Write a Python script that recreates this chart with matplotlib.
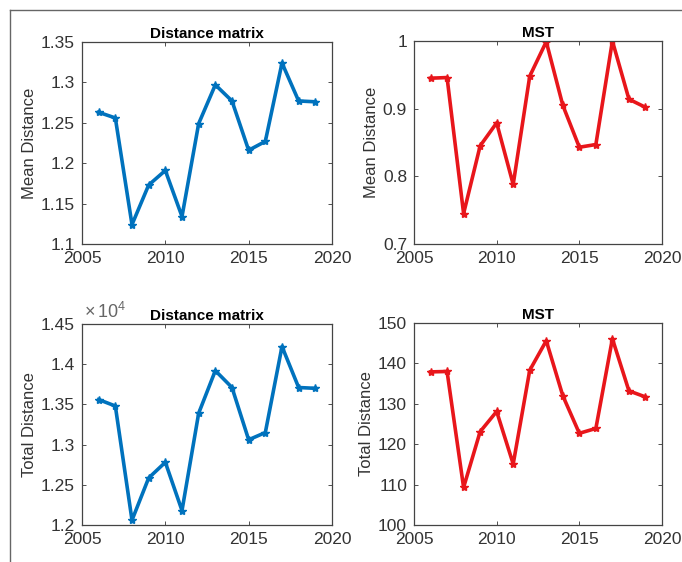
import matplotlib
matplotlib.use("Agg")
import matplotlib.pyplot as plt
from matplotlib.ticker import FuncFormatter
from matplotlib.lines import Line2D

plt.rcParams['font.family'] = ['Liberation Sans', 'DejaVu Sans']
plt.rcParams['mathtext.fontset'] = 'custom'
plt.rcParams['mathtext.rm'] = 'Liberation Sans'

years = [2006, 2007, 2008, 2009, 2010, 2011, 2012, 2013, 2014, 2015, 2016, 2017, 2018, 2019]
dm_mean = [1.263, 1.256, 1.124, 1.173, 1.191, 1.134, 1.249, 1.297, 1.277, 1.216, 1.227, 1.324, 1.277, 1.276]
mst_mean = [0.945, 0.946, 0.745, 0.845, 0.879, 0.788, 0.948, 0.999, 0.905, 0.843, 0.847, 1.0, 0.914, 0.902]
dm_total = [13560, 13480, 12060, 12585, 12780, 12180, 13390, 13920, 13710, 13060, 13150, 14220, 13710, 13700]
mst_total = [137.9, 138.0, 109.3, 123.1, 128.1, 115.1, 138.3, 145.6, 132.0, 122.7, 123.9, 146.1, 133.2, 131.7]

xticks = [2005, 2010, 2015, 2020]
titles = ["Distance matrix", "MST", "Distance matrix", "MST"]
ylabels = ["Mean Distance", "Mean Distance", "Total Distance", "Total Distance"]
ylims = [(1.1, 1.35), (0.7, 1.0), (12000, 14500), (100, 150)]
yticks = [[1.1, 1.15, 1.2, 1.25, 1.3, 1.35],
          [0.7, 0.8, 0.9, 1.0],
          [12000, 12500, 13000, 13500, 14000, 14500],
          [100, 110, 120, 130, 140, 150]]
scales = [1, 1, 1e4, 1]
blue = '#0072BD'
red = '#E8161B'
colors = [blue, red, blue, red]
series = [dm_mean, mst_mean, dm_total, mst_total]

W, H = 682, 562
fig = plt.figure(figsize=(W / 100, H / 100), dpi=100)

boxes = [(82, 332, 42, 244), (414, 662, 41, 244), (82, 332, 324, 525), (414, 662, 323, 525)]
tickcol = '#333333'
for i, (l, r, t, b) in enumerate(boxes):
    ax = fig.add_axes([l / W, 1 - b / H, (r - l) / W, (b - t) / H])
    ax.plot(years, series[i], color=colors[i], lw=2.6, marker='*', ms=6,
            markeredgewidth=1.0)
    ax.set_xlim(2005, 2020)
    ax.set_ylim(*ylims[i])
    ax.set_xticks(xticks)
    ax.set_yticks(yticks[i])
    sc = scales[i]
    ax.yaxis.set_major_formatter(FuncFormatter(lambda v, p, sc=sc: '%g' % round(v / sc, 4)))
    if sc != 1:
        ax.text(0.01, 1.012, r'$\times\,10^{4}$', transform=ax.transAxes, ha='left', va='bottom',
                fontsize=13, color='#666666')
    ax.set_title(titles[i], fontsize=11, fontweight='bold', pad=3)
    ax.set_ylabel(ylabels[i], fontsize=12, color=tickcol, labelpad=3)
    ax.tick_params(direction='in', length=3, width=0.6, top=True, right=True,
                   labelsize=12.5, colors=tickcol, pad=5)
    for s in ax.spines.values():
        s.set_color('#444444')
        s.set_linewidth(0.9)

fig.add_artist(Line2D([10 / W, 1], [1 - 10 / H, 1 - 10 / H], transform=fig.transFigure,
                      color='#666666', lw=1.0))
fig.add_artist(Line2D([10 / W, 10 / W], [0, 1 - 10 / H], transform=fig.transFigure,
                      color='#666666', lw=1.0))

fig.savefig("out.png", dpi=100)
